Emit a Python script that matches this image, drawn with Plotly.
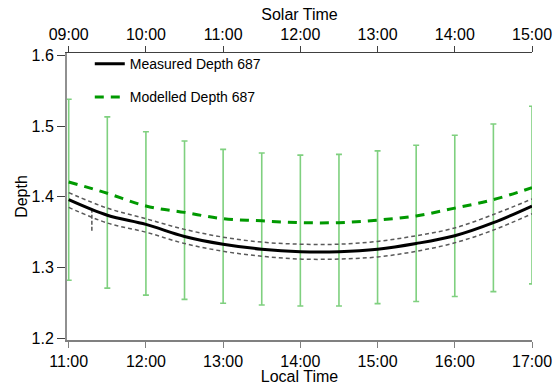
import plotly.graph_objects as go

# ---- data (hours of local time) ----
hours = [11, 11.5, 12, 12.5, 13, 13.5, 14, 14.5, 15, 15.5, 16, 16.5, 17]
measured = [1.396, 1.374, 1.361, 1.344, 1.333, 1.326, 1.3225, 1.3225, 1.326, 1.334, 1.345, 1.3635, 1.387]
measured_upper = [1.406, 1.384, 1.369, 1.354, 1.343, 1.336, 1.333, 1.333, 1.337, 1.345, 1.356, 1.375, 1.397]
measured_lower = [1.385, 1.363, 1.350, 1.334, 1.323, 1.316, 1.312, 1.312, 1.315, 1.323, 1.335, 1.353, 1.376]
modelled = [1.421, 1.405, 1.387, 1.378, 1.369, 1.366, 1.3635, 1.3635, 1.367, 1.373, 1.384, 1.396, 1.413]
err_top = [1.538, 1.513, 1.492, 1.479, 1.467, 1.462, 1.459, 1.460, 1.465, 1.473, 1.487, 1.503, 1.528]
err_bottom = [1.282, 1.271, 1.261, 1.255, 1.2495, 1.247, 1.2457, 1.2457, 1.249, 1.252, 1.259, 1.266, 1.277]
stray_x = [11.3, 11.3]
stray_y = [1.352, 1.381]

local_ticks = [11, 12, 13, 14, 15, 16, 17]
local_labels = ["11:00", "12:00", "13:00", "14:00", "15:00", "16:00", "17:00"]
solar_offset = 2
solar_ticks = [9, 10, 11, 12, 13, 14, 15]
solar_labels = ["09:00", "10:00", "11:00", "12:00", "13:00", "14:00", "15:00"]
y_ticks = [1.2, 1.3, 1.4, 1.5, 1.6]

FONT = "Liberation Sans, Arial, sans-serif"

fig = go.Figure()

# error bars around modelled depth
fig.add_trace(go.Scatter(
    x=hours, y=modelled, mode="markers",
    marker=dict(size=0.1, color="rgba(0,0,0,0)"),
    error_y=dict(type="data", symmetric=False,
                 array=[t - m for t, m in zip(err_top, modelled)],
                 arrayminus=[m - b for m, b in zip(modelled, err_bottom)],
                 color="#7fd07f", thickness=1.6, width=3),
    showlegend=False, hoverinfo="skip"))

# measured band
for band in (measured_upper, measured_lower):
    fig.add_trace(go.Scatter(
        x=hours, y=band, mode="lines", line=dict(color="#5a5a5a", width=1.5, dash="4px,3px", shape="spline"),
        showlegend=False, hoverinfo="skip"))

fig.add_trace(go.Scatter(
    x=stray_x, y=stray_y, mode="lines", line=dict(color="#555555", width=1.5, dash="4px,2px"),
    showlegend=False, hoverinfo="skip"))

fig.add_trace(go.Scatter(
    x=hours, y=measured, mode="lines", name="Measured Depth 687",
    line=dict(color="black", width=3, shape="spline"), legendgroup="a"))

fig.add_trace(go.Scatter(
    x=hours, y=modelled, mode="lines", name="Modelled Depth 687",
    line=dict(color="#009900", width=3, dash="9px,7px", shape="spline"), legendgroup="b"))

# invisible trace for the solar-time axis
fig.add_trace(go.Scatter(
    x=[h - solar_offset for h in hours], y=modelled, xaxis="x2", mode="lines",
    line=dict(color="rgba(0,0,0,0)"), showlegend=False, hoverinfo="skip"))

x0, x1 = 10.978, 17.0
fig.update_layout(
    width=559, height=385,
    margin=dict(l=67, r=27, t=53, b=45),
    paper_bgcolor="white", plot_bgcolor="white",
    font=dict(family=FONT, size=16, color="black"),
    showlegend=True,
    legend=dict(x=0.049, y=1.017, xanchor="left", yanchor="top",
                bgcolor="rgba(0,0,0,0)", font=dict(size=14),
                traceorder="grouped", tracegroupgap=12),
    xaxis=dict(range=[x0, x1], tickvals=local_ticks, ticktext=local_labels,
               showline=True, linecolor="#808080", linewidth=2,
               ticks="outside", ticklen=6, tickcolor="#808080", tickwidth=1,
               showgrid=False, zeroline=False, automargin=False,
               title=dict(text="Local Time", standoff=5, font=dict(size=16))),
    xaxis2=dict(range=[x0 - solar_offset, x1 - solar_offset], overlaying="x", side="top",
                tickvals=solar_ticks, ticktext=solar_labels,
                showline=True, linecolor="#404040", linewidth=1,
                ticks="outside", ticklen=6, tickcolor="#404040", tickwidth=1,
                showgrid=False, zeroline=False, automargin=False,
                title=dict(text="Solar Time", standoff=0, font=dict(size=16))),
    yaxis=dict(range=[1.1976, 1.6033], tickvals=y_ticks, tickformat=".1f",
               showline=True, linecolor="#909090", linewidth=2,
               ticks="outside", ticklen=8, tickcolor="#404040", tickwidth=1,
               showgrid=False, zeroline=False, automargin=False,
               title=dict(text="Depth", standoff=0, font=dict(size=16))),
)

fig.write_html("out.html", config={"displayModeBar": False},
               post_script="document.body.style.margin='0';document.body.style.padding='0';")
